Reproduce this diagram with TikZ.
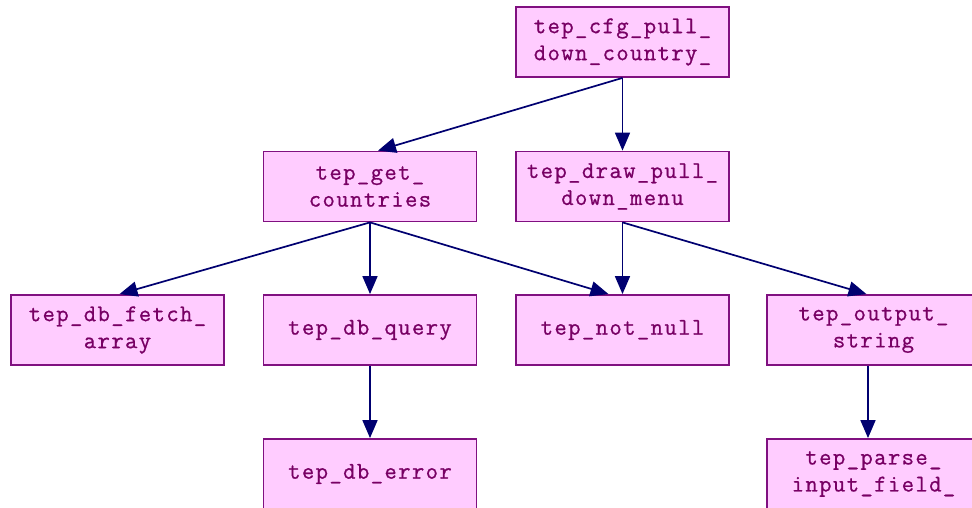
\documentclass[tikz,border=0pt]{standalone}
\usepackage{fontspec}
\newfontfamily\codefont[LetterSpace=5.8,FakeBold=0.8]{Latin Modern Mono}
\usetikzlibrary{arrows.meta}
\definecolor{boxfill}{RGB}{255,204,255}
\definecolor{boxline}{RGB}{128,16,128}
\definecolor{boxtext}{RGB}{120,0,100}
\definecolor{edgecol}{RGB}{0,0,112}
\begin{document}
\begin{tikzpicture}[x=1pt,y=-1pt,
  fn/.style={draw=boxline, line width=1.8pt, fill=boxfill,
    minimum width=213pt, minimum height=70pt, inner sep=0pt,
    align=center, text=boxtext,
    font=\codefont\fontsize{24}{27}\selectfont},
  call/.style={draw=edgecol, line width=1.7pt,
    -{Triangle[length=18pt,width=15pt]}}]
\useasboundingbox (0,0) rectangle (972,508);
\begin{scope}
\clip (0,0) rectangle (972,508);
% call graph nodes
\node[fn] (cfg)    at (622.5,42)  {tep\_cfg\_pull\_\\down\_country\_};
\node[fn] (get)    at (370,186.5) {tep\_get\_\\countries};
\node[fn] (menu)   at (622.5,186.5) {tep\_draw\_pull\_\\down\_menu};
\node[fn] (fetch)  at (117.5,330) {tep\_db\_fetch\_\\array};
\node[fn] (query)  at (370,330)   {tep\_db\_query};
\node[fn] (notnull) at (622.5,330) {tep\_not\_null};
\node[fn] (output) at (873.5,330) {tep\_output\_\\string};
\node[fn] (error)  at (370,474)   {tep\_db\_error};
\node[fn] (parse)  at (873.5,474) {tep\_parse\_\\input\_field\_};
% calls
\draw[call] (cfg.south) -- ([xshift=8pt]get.north);
\draw[call] (cfg.south) -- (menu.north);
\draw[call] (get.south) -- ([xshift=2pt]fetch.north);
\draw[call] (get.south) -- (query.north);
\draw[call] (get.south) -- ([xshift=-14pt]notnull.north);
\draw[call] (menu.south) -- (notnull.north);
\draw[call] (menu.south) -- ([xshift=-7pt]output.north);
\draw[call] (query.south) -- (error.north);
\draw[call] ([xshift=-5.5pt]output.south) -- ([xshift=-5.5pt]parse.north);
\end{scope}
\end{tikzpicture}
\end{document}
